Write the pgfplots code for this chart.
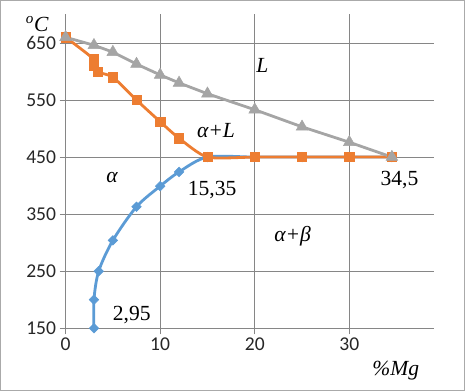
\documentclass[border=0pt]{standalone}
\usepackage{pgfplots}
\pgfplotsset{compat=1.18}
\usepackage{fontspec}
\setmainfont{Liberation Serif}
\newfontfamily\calibri{Carlito}
\definecolor{cblue}{RGB}{91,155,213}
\definecolor{corange}{RGB}{237,125,49}
\definecolor{cgray}{RGB}{165,165,165}
\definecolor{gridc}{RGB}{134,134,134}
\begin{document}
\begin{tikzpicture}
\begin{axis}[
  scale only axis, width=367pt, height=313pt,
  xmin=0, xmax=38.9, ymin=150, ymax=700,
  xtick={0,10,20,30}, ytick={150,250,350,450,550,650},
  axis lines=left, axis line style={-, draw=gridc, line width=0.8pt},
  grid=major, major grid style={draw=gridc, line width=0.8pt},
  tick align=outside, major tick length=6pt,
  tick style={draw=gridc, line width=0.8pt},
  ticklabel style={font=\calibri\fontsize{19.5}{20}\selectfont, text=black!85},
  /pgf/number format/assume math mode=true,
  clip=false,
]
\addplot[cblue, line width=2.8pt, smooth, mark=square*, mark size=3.4pt, mark options={fill=cblue, draw=cblue, line width=0.5pt, rotate=45}]
coordinates {(3,150) (3,200) (3.5,250) (5,304) (7.5,363) (10,399) (12,424) (15,450) (20,450) (25,450) (30,450) (34.5,450)};
\addplot[corange, line width=2.8pt, smooth, tension=0.4, mark=square*, mark size=4.6pt, mark options={fill=corange, draw=corange, line width=0.5pt}]
coordinates {(0,660) (2.95,622) (2.95,610) (3.4,599) (5,590) (7.5,550) (10,512) (12,483) (15,450) (20,450) (25,450) (30,450) (34.5,450)};
\addplot[cgray, line width=2.8pt, mark=triangle*, mark size=6.8pt, mark options={fill=cgray, draw=cgray, line width=0.5pt}]
coordinates {(0,660) (3,646) (5,634) (7.5,613) (10,594) (12,580) (15,561) (20,533) (25,503) (30,476) (34.5,450)};
\begin{scope}[every node/.style={font=\itshape\fontsize{21.5}{22}\selectfont}]
\node at (axis cs:20.8,611) {L};
\node at (axis cs:15.9,497) {α+L};
\node at (axis cs:4.9,414) {α};
\node at (axis cs:24.0,312) {α+β};
\node at (axis cs:34.9,76) {\%Mg};
\node at (axis cs:-3.0,683) {\textsuperscript{o}C};
\end{scope}
\begin{scope}[every node/.style={font=\fontsize{21.5}{22}\selectfont}]
\node at (axis cs:15.5,393) {15,35};
\node at (axis cs:35.3,410) {34,5};
\node at (axis cs:7.0,173) {2,95};
\end{scope}
\end{axis}
\draw[draw=gridc!70, line width=0.8pt] ([shift={(-65pt,-62pt)}]current axis.south west) rectangle ([shift={(31pt,14pt)}]current axis.north east);
\end{tikzpicture}
\end{document}
